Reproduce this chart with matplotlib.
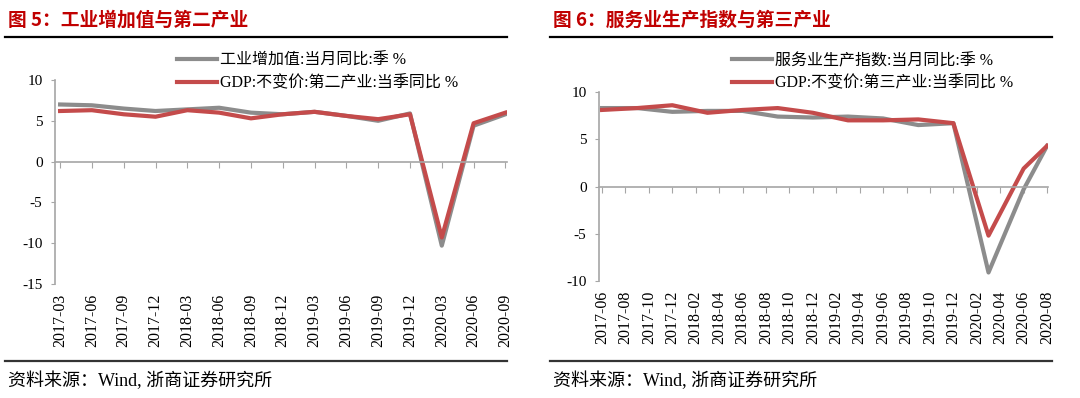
import matplotlib
matplotlib.use('Agg')
import matplotlib.pyplot as plt
from matplotlib.lines import Line2D
import pandas as pd

# fig 5 : industrial value added vs secondary industry (quarterly)
left_dates = ['2017-03', '2017-06', '2017-09', '2017-12', '2018-03', '2018-06', '2018-09', '2018-12',
              '2019-03', '2019-06', '2019-09', '2019-12', '2020-03', '2020-06', '2020-09']
left_industry = [7.0, 6.9, 6.5, 6.2, 6.4, 6.6, 6.0, 5.8, 6.1, 5.6, 5.0, 5.9, -10.3, 4.4, 5.8]
left_gdp2 = [6.2, 6.3, 5.8, 5.5, 6.3, 6.0, 5.3, 5.8, 6.1, 5.6, 5.2, 5.8, -9.3, 4.7, 6.0]
left_yticks = [-15, -10, -5, 0, 5, 10]

# fig 6 : service production index vs tertiary industry (quarterly points, monthly axis)
right_dates = ['2017-06', '2017-09', '2017-12', '2018-03', '2018-06', '2018-09', '2018-12',
               '2019-03', '2019-06', '2019-09', '2019-12', '2020-03', '2020-06', '2020-08']
right_service = [8.3, 8.3, 7.9, 8.0, 8.0, 7.4, 7.3, 7.4, 7.2, 6.5, 6.7, -9.1, -0.3, 4.3]
right_gdp3 = [8.1, 8.3, 8.6, 7.8, 8.1, 8.3, 7.8, 7.0, 7.0, 7.1, 6.7, -5.2, 1.9, 4.3]
right_ticklabels = ['2017-06', '2017-08', '2017-10', '2017-12', '2018-02', '2018-04', '2018-06',
                    '2018-08', '2018-10', '2018-12', '2019-02', '2019-04', '2019-06', '2019-08',
                    '2019-10', '2019-12', '2020-02', '2020-04', '2020-06', '2020-08']
right_yticks = [-10, -5, 0, 5, 10]

titles = ['图 5：工业增加值与第二产业', '图 6：服务业生产指数与第三产业']
left_names = ['工业增加值:当月同比:季 %', 'GDP:不变价:第二产业:当季同比 %']
right_names = ['服务业生产指数:当月同比:季 %', 'GDP:不变价:第三产业:当季同比 %']
source = '资料来源：Wind, 浙商证券研究所'

GRAY = '#8c8c8c'
RED = '#c44b4b'
AXC = '#a6a6a6'
TITLE_RED = '#c00000'
SERIF = ['Liberation Serif', 'Noto Sans CJK SC']

W, H = 1080, 398
fig = plt.figure(figsize=(W / 100, H / 100), dpi=100)


def fx(px):
    return px / W


def fy(py):
    return 1 - py / H


def month_index(dates, start):
    p0 = pd.Period(start, 'M')
    return [(pd.Period(d, 'M') - p0).n for d in dates]


def setup_axis(ax, xpos, xlabels, yticks, xlim):
    ax.set_xlim(*xlim)
    ax.set_ylim(yticks[0], yticks[-1])
    for s in ['top', 'right']:
        ax.spines[s].set_visible(False)
    ax.spines['left'].set_color(AXC)
    ax.spines['bottom'].set_color(AXC)
    ax.spines['bottom'].set_position(('data', 0))
    ax.spines['left'].set_linewidth(1.2)
    ax.spines['bottom'].set_linewidth(1.2)
    ax.set_yticks(yticks)
    ax.set_yticklabels([str(v) for v in yticks], family=SERIF, fontsize=11)
    ax.set_xticks(xpos)
    ax.tick_params(axis='x', direction='out', length=4, color=AXC, labelbottom=False)
    ax.tick_params(axis='y', direction='out', length=3, color=AXC, pad=6)
    sec = ax.secondary_xaxis('bottom')
    sec.set_xticks(xpos)
    sec.set_xticklabels(xlabels, rotation=90, family=SERIF, fontsize=11.5)
    sec.tick_params(length=0, pad=7)
    sec.spines['bottom'].set_visible(False)


def panel_frame(x0, x1, title):
    fig.text(fx(x0 + 3), fy(20), title, color=TITLE_RED, fontsize=13.5, fontweight='bold',
             family=['Noto Sans CJK SC'], va='center')
    fig.add_artist(Line2D([fx(x0), fx(x1)], [fy(37), fy(37)], color='black', lw=1.6))
    fig.add_artist(Line2D([fx(x0), fx(x1)], [fy(361), fy(361)], color='#333333', lw=1.6))
    fig.text(fx(x0 + 3), fy(381), source, fontsize=13, family=SERIF, va='center')


def add_legend(ax, x_px):
    ax.legend(loc='upper left', bbox_to_anchor=(fx(x_px), fy(53)), bbox_transform=fig.transFigure,
              frameon=False, borderpad=0, borderaxespad=0, handlelength=2.5, handletextpad=0.2,
              labelspacing=0.4, prop={'family': SERIF, 'size': 11.5})


# left chart
axl = fig.add_axes([fx(55), fy(284), fx(507 - 55), fy(80) - fy(284)])
xl = list(range(len(left_dates)))
axl.plot(xl, left_industry, color=GRAY, lw=3, label=left_names[0])
axl.plot(xl, left_gdp2, color=RED, lw=3, label=left_names[1])
setup_axis(axl, xl, left_dates, left_yticks, (-0.16, len(left_dates) - 1 + 0.05))
add_legend(axl, 177)
panel_frame(5, 507, titles[0])

# right chart
axr = fig.add_axes([fx(599), fy(281), fx(1048 - 599), fy(92) - fy(281)])
xr = month_index(right_dates, right_dates[0])
xr_ticks = month_index(right_ticklabels, right_dates[0])
axr.plot(xr, right_service, color=GRAY, lw=3, label=right_names[0])
axr.plot(xr, right_gdp3, color=RED, lw=3, label=right_names[1])
setup_axis(axr, xr_ticks, right_ticklabels, right_yticks, (-0.26, xr[-1] + 0.08))
add_legend(axr, 732)
panel_frame(550, 1052, titles[1])

fig.savefig('out.png', dpi=100)
